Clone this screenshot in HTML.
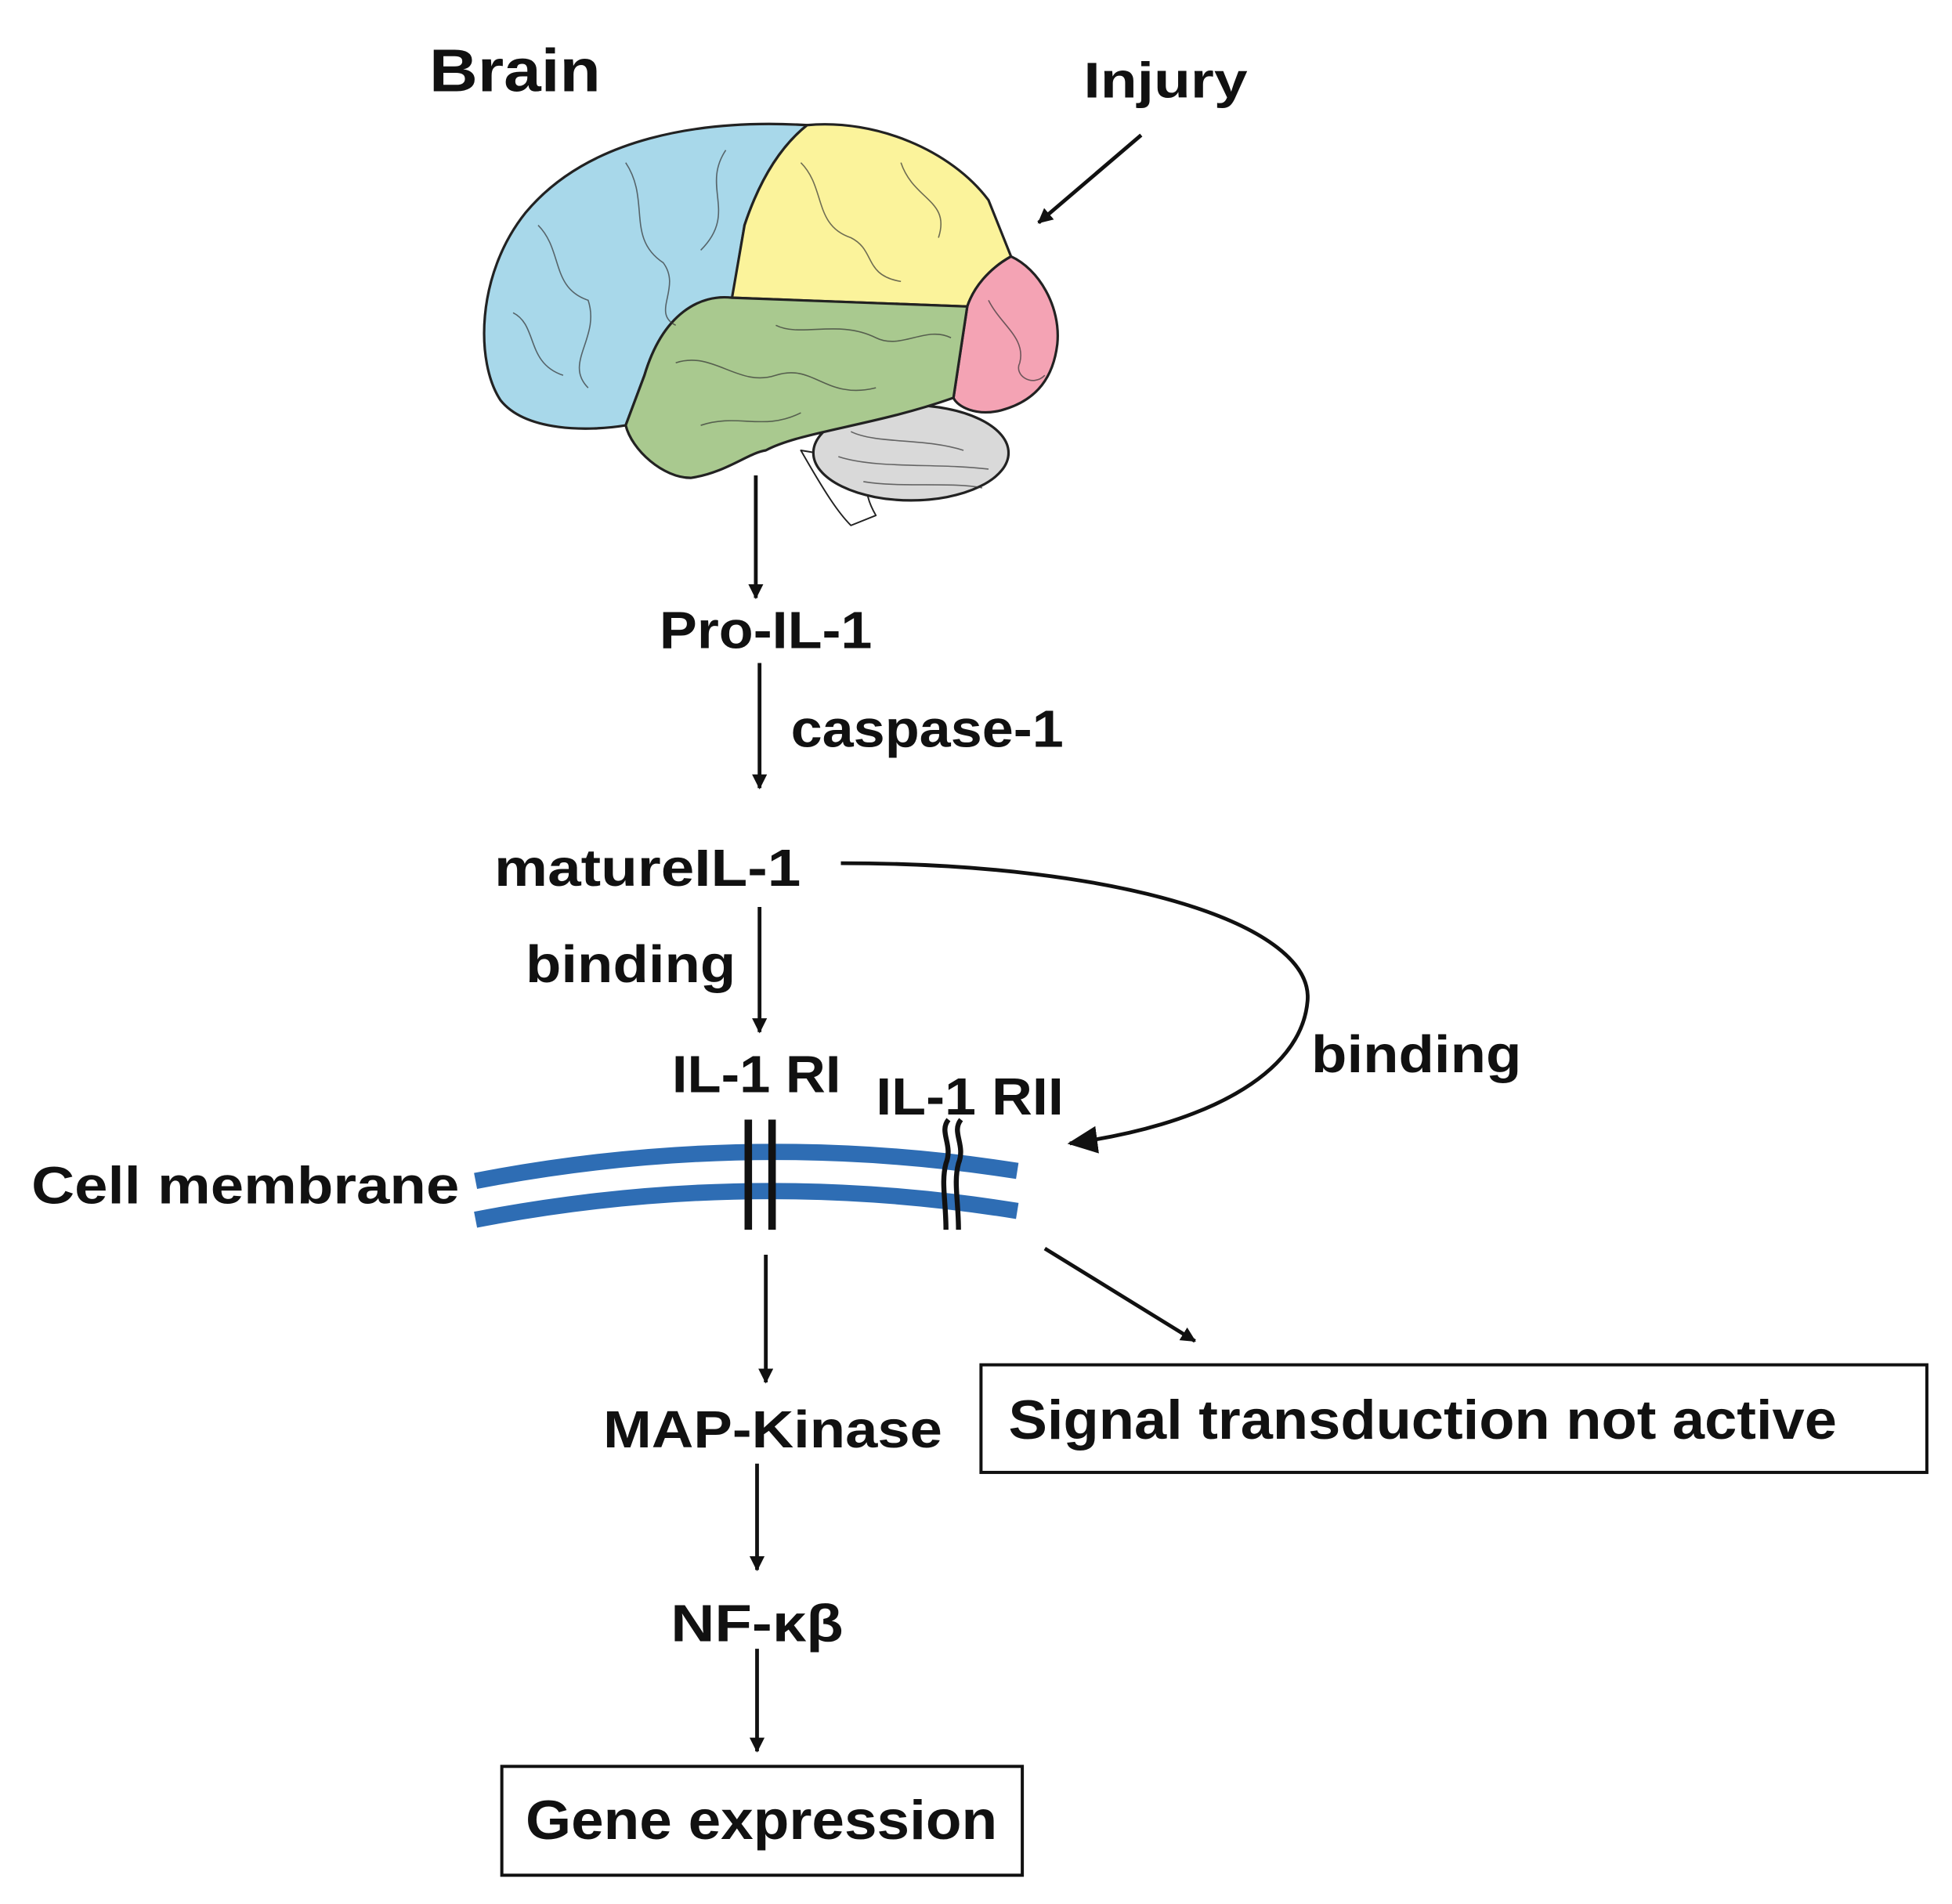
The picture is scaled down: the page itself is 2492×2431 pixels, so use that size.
<!DOCTYPE html>
<html><head><meta charset="utf-8"><style>
html,body{margin:0;padding:0;background:#fff;}
svg{display:block;}
text{font-family:"Liberation Sans",sans-serif;font-weight:bold;fill:#111;}
</style></head><body>
<svg width="2492" height="2431" viewBox="0 0 1560 1522" xmlns="http://www.w3.org/2000/svg">
<defs>
<marker id="ah" markerWidth="12" markerHeight="12" refX="11" refY="6" orient="auto" markerUnits="userSpaceOnUse">
<path d="M0,0 L12,6 L0,12 Z" fill="#111"/></marker>
<marker id="ah2" markerWidth="24" markerHeight="22" refX="22" refY="11" orient="auto" markerUnits="userSpaceOnUse">
<path d="M0,0 L24,11 L0,22 Z" fill="#111"/></marker>
</defs>
<rect width="1560" height="1522" fill="#fff"/>
<text x="343" y="73" font-size="48" textLength="137" lengthAdjust="spacingAndGlyphs">Brain</text>
<text x="866" y="78" font-size="40" textLength="131" lengthAdjust="spacingAndGlyphs">Injury</text>
<line x1="912" y1="108" x2="830" y2="178" stroke="#111" stroke-width="3" marker-end="url(#ah)"/>
<!-- brain -->
<g stroke="#222" stroke-width="2" stroke-linejoin="round">
<path d="M640,360 C660,395 670,410 680,420 L700,412 C690,395 690,380 700,370 Z" fill="#fff" stroke-width="1.2"/>
<ellipse cx="728" cy="362" rx="78" ry="38" fill="#d9d9d9"/>
<path d="M645,100 C560,95 470,110 420,170 C380,220 380,290 400,320 C420,345 470,345 500,340 L515,300 C530,250 560,235 585,240 L595,180 C605,150 620,120 645,100 Z" fill="#a8d8ea"/>
<path d="M645,100 C700,95 760,120 790,160 L808,205 C790,215 778,230 773,245 L585,238 L595,180 C605,150 620,120 645,100 Z" fill="#fbf39b"/>
<path d="M808,205 C830,215 848,245 845,275 C842,300 830,320 800,328 C780,333 765,325 762,318 L773,245 C778,230 790,215 808,205 Z" fill="#f4a3b4"/>
<path d="M585,238 C560,235 530,250 515,300 L500,340 C505,360 530,382 552,382 C580,378 598,362 612,360 C640,345 700,340 762,318 L773,245 Z" fill="#a9c98f"/>
</g>
<g stroke="#333" stroke-width="1" fill="none" opacity="0.7">
<path d="M430,180 C450,200 440,230 470,240 C480,270 450,290 470,310"/>
<path d="M500,130 C520,160 500,190 530,210 C545,230 520,250 540,260"/>
<path d="M580,120 C560,150 590,170 560,200"/>
<path d="M410,250 C430,260 420,290 450,300"/>
<path d="M640,130 C660,150 650,180 680,190 C700,200 690,220 720,225"/>
<path d="M720,130 C730,160 760,160 750,190"/>
<path d="M540,290 C570,280 590,310 620,300 C650,290 660,320 700,310"/>
<path d="M560,340 C590,330 610,345 640,330"/>
<path d="M620,260 C640,270 670,255 700,270 C720,280 740,260 760,270"/>
<path d="M790,240 C800,260 820,270 815,290 C810,300 825,310 835,300"/>
<path d="M680,345 C700,355 740,350 770,360 M670,365 C700,375 750,370 790,375 M690,385 C720,390 760,385 785,390"/>
</g>
<line x1="604" y1="380" x2="604" y2="478" stroke="#111" stroke-width="3" marker-end="url(#ah)"/>
<text x="527" y="518" font-size="42" textLength="170" lengthAdjust="spacingAndGlyphs">Pro-IL-1</text>
<line x1="607" y1="530" x2="607" y2="630" stroke="#111" stroke-width="3" marker-end="url(#ah)"/>
<text x="632" y="597" font-size="42" textLength="218" lengthAdjust="spacingAndGlyphs">caspase-1</text>
<text x="395" y="708" font-size="42" textLength="245" lengthAdjust="spacingAndGlyphs">matureIL-1</text>
<path d="M672,690 C900,690 1050,740 1045,800 C1040,860 960,900 855,914" fill="none" stroke="#111" stroke-width="3" marker-end="url(#ah2)"/>
<line x1="607" y1="725" x2="607" y2="825" stroke="#111" stroke-width="3" marker-end="url(#ah)"/>
<text x="420" y="785" font-size="42" textLength="168" lengthAdjust="spacingAndGlyphs">binding</text>
<text x="1048" y="857" font-size="42" textLength="168" lengthAdjust="spacingAndGlyphs">binding</text>
<text x="537" y="873" font-size="42" textLength="135" lengthAdjust="spacingAndGlyphs">IL-1 RI</text>
<text x="700" y="891" font-size="42" textLength="150" lengthAdjust="spacingAndGlyphs">IL-1 RII</text>
<text x="25" y="962" font-size="42" textLength="342" lengthAdjust="spacingAndGlyphs">Cell membrane</text>
<!-- membrane -->
<path d="M380,944 Q597,902 813,936" fill="none" stroke="#2e6db4" stroke-width="13"/>
<path d="M380,975 Q597,933 813,968" fill="none" stroke="#2e6db4" stroke-width="13"/>
<line x1="598" y1="895" x2="598" y2="983" stroke="#111" stroke-width="6"/>
<line x1="617" y1="895" x2="617" y2="983" stroke="#111" stroke-width="6"/>
<path d="M758,895 C750,905 762,915 756,930 C752,945 756,960 756,983" fill="none" stroke="#111" stroke-width="4"/>
<path d="M768,895 C760,905 772,915 766,930 C762,945 766,960 766,983" fill="none" stroke="#111" stroke-width="4"/>
<line x1="612" y1="1003" x2="612" y2="1105" stroke="#111" stroke-width="3" marker-end="url(#ah)"/>
<text x="482" y="1157" font-size="42" textLength="271" lengthAdjust="spacingAndGlyphs">MAP-Kinase</text>
<line x1="835" y1="998" x2="955" y2="1072" stroke="#111" stroke-width="3" marker-end="url(#ah)"/>
<rect x="784" y="1091" width="756" height="86" fill="none" stroke="#111" stroke-width="2.5"/>
<text x="806" y="1150" font-size="44" textLength="662" lengthAdjust="spacingAndGlyphs">Signal transduction not active</text>
<line x1="605" y1="1170" x2="605" y2="1255" stroke="#111" stroke-width="3" marker-end="url(#ah)"/>
<text x="536" y="1312" font-size="42" textLength="138" lengthAdjust="spacingAndGlyphs">NF-κβ</text>
<line x1="605" y1="1318" x2="605" y2="1400" stroke="#111" stroke-width="3" marker-end="url(#ah)"/>
<rect x="401" y="1412" width="416" height="87" fill="none" stroke="#111" stroke-width="2.5"/>
<text x="420" y="1470" font-size="44" textLength="377" lengthAdjust="spacingAndGlyphs">Gene expression</text>
</svg>
</body></html>
